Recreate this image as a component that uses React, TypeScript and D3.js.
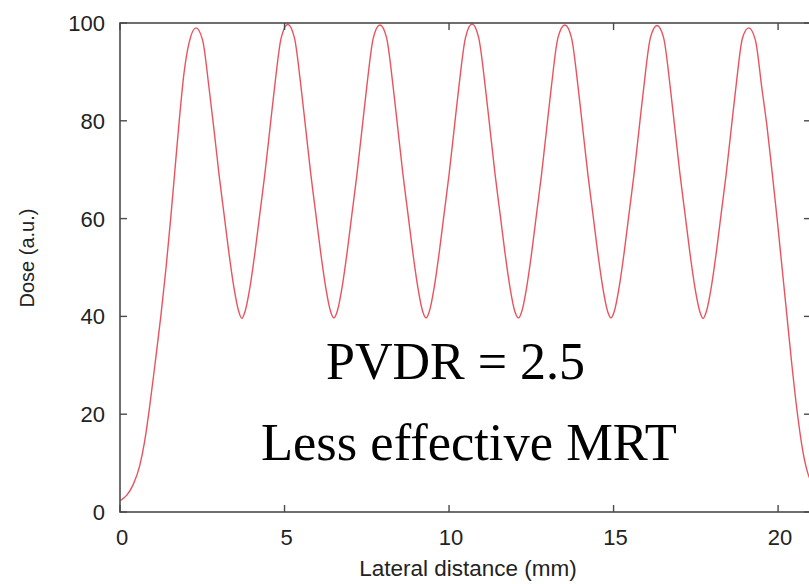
import React from "react";
import * as d3 from "d3";

// Lateral distance (mm) and dose (a.u.)
const lateralMm: number[] = [
  0, 0.2, 0.4, 0.6, 0.75, 0.9, 1.05, 1.24, 1.4, 1.54, 1.67, 1.8, 1.95, 2.1, 2.31,
  2.51, 2.71, 2.86, 3.01, 3.16, 3.31, 3.46, 3.61, 3.7,
  3.8, 3.95, 4.1, 4.25, 4.4, 4.55, 4.7, 4.9, 5.1,
  5.3, 5.5, 5.65, 5.8, 5.95, 6.1, 6.25, 6.4, 6.5,
  6.6, 6.75, 6.9, 7.05, 7.2, 7.35, 7.5, 7.7, 7.9,
  8.1, 8.3, 8.45, 8.6, 8.75, 8.9, 9.05, 9.2, 9.3,
  9.4, 9.55, 9.7, 9.85, 10.0, 10.15, 10.3, 10.5, 10.7,
  10.9, 11.1, 11.25, 11.4, 11.55, 11.7, 11.85, 12.0, 12.11,
  12.21, 12.36, 12.51, 12.66, 12.81, 12.96, 13.11, 13.31, 13.52,
  13.72, 13.92, 14.07, 14.22, 14.37, 14.52, 14.67, 14.82, 14.92,
  15.02, 15.17, 15.32, 15.47, 15.62, 15.77, 15.92, 16.12, 16.32,
  16.52, 16.72, 16.87, 17.02, 17.17, 17.32, 17.47, 17.62, 17.72,
  17.82, 17.97, 18.12, 18.27, 18.42, 18.57, 18.72, 18.92, 19.11,
  19.31, 19.51, 19.66, 19.81, 19.97, 20.12, 20.27, 20.42, 20.58, 20.75, 20.9, 21.0,
];
const dose: number[] = [
  2.3, 3.4, 5.6, 9.5, 14.5, 21.5, 29.5, 40, 50, 60, 70, 80, 90, 96, 99.0,
  96.5, 86.5, 78, 69, 61, 53, 46, 41, 39.6,
  41, 46, 53, 61, 69, 78, 87, 97, 99.7,
  97, 87, 78, 69, 61, 53, 46, 41, 39.7,
  41, 46, 53, 61, 69, 78, 87, 97, 99.6,
  97, 87, 78, 69, 61, 53, 46, 41, 39.7,
  41, 46, 53, 61, 69, 78, 87, 97, 99.8,
  97, 87, 78, 69, 61, 53, 46, 41, 39.7,
  41, 46, 53, 61, 69, 78, 87, 97, 99.6,
  97, 87, 78, 69, 61, 53, 46, 41, 39.7,
  41, 46, 53, 61, 69, 78, 87, 97, 99.5,
  97, 87, 78, 69, 61, 53, 46, 41, 39.6,
  41, 46, 53, 61, 69, 78, 87, 97, 99.0,
  96.5, 86.5, 79, 70, 60, 50, 40, 30, 20.5, 12.5, 8, 6.3,
];
const xTicks: number[] = [0, 5, 10, 15, 20];
const yTicks: number[] = [0, 20, 40, 60, 80, 100];
const xTitle = "Lateral distance (mm)";
const yTitle = "Dose (a.u.)";
const note1 = "PVDR = 2.5";
const note2 = "Less effective MRT";

const W = 809;
const H = 584;
const left = 120;
const right = 811;
const top = 23;
const bottom = 512;

export default function App() {
  const x = d3.scaleLinear().domain([0, 21]).range([left, right]);
  const y = d3.scaleLinear().domain([0, 100]).range([bottom, top]);
  const pts: [number, number][] = lateralMm.map((v, i) => [v, dose[i]]);
  const line = d3
    .line<[number, number]>()
    .x((d) => x(d[0]))
    .y((d) => y(d[1]))
    .curve(d3.curveMonotoneX);
  const axisColor = "#4a4a4a";
  const sans = "'Liberation Sans', Arial, Helvetica, sans-serif";
  const serif = "'Liberation Serif', 'Times New Roman', serif";
  const tl = 7;
  return (
    <svg
      width={W}
      height={H}
      style={{ position: "absolute", left: 0, top: 0, background: "#fff" }}
    >
      <defs>
        <clipPath id="plot">
          <rect x={left} y={top - 3} width={right - left} height={bottom - top + 6} />
        </clipPath>
      </defs>
      <path
        d={line(pts) || ""}
        fill="none"
        stroke="#e8404c"
        strokeWidth={1.4}
        strokeOpacity={0.9}
        clipPath="url(#plot)"
      />
      <rect
        x={left}
        y={top}
        width={right - left}
        height={bottom - top}
        fill="none"
        stroke={axisColor}
        strokeWidth={1.6}
      />
      {yTicks.map((t) => (
        <g key={"y" + t}>
          <line x1={left} x2={left + tl} y1={y(t)} y2={y(t)} stroke={axisColor} strokeWidth={1.4} />
          <line x1={right} x2={right - tl} y1={y(t)} y2={y(t)} stroke={axisColor} strokeWidth={1.4} />
          <text
            x={left - 15}
            y={y(t)}
            dy="0.36em"
            textAnchor="end"
            fontFamily={sans}
            fontSize={22}
            fill="#222"
          >
            {t}
          </text>
        </g>
      ))}
      {xTicks.map((t) => (
        <g key={"x" + t}>
          <line x1={x(t)} x2={x(t)} y1={bottom} y2={bottom - tl} stroke={axisColor} strokeWidth={1.4} />
          <line x1={x(t)} x2={x(t)} y1={top} y2={top + tl} stroke={axisColor} strokeWidth={1.4} />
          <text
            x={x(t) + 2}
            y={545}
            textAnchor="middle"
            fontFamily={sans}
            fontSize={22}
            fill="#222"
          >
            {t}
          </text>
        </g>
      ))}
      <text
        x={468}
        y={576}
        textAnchor="middle"
        fontFamily={sans}
        fontSize={22.5}
        fill="#222"
      >
        {xTitle}
      </text>
      <text
        transform={`translate(34,258) rotate(-90)`}
        textAnchor="middle"
        fontFamily={sans}
        fontSize={20}
        fill="#222"
      >
        {yTitle}
      </text>
      <text x={326} y={379} fontFamily={serif} fontSize={52} fill="#000">
        {note1}
      </text>
      <text x={261} y={460} fontFamily={serif} fontSize={52.5} fill="#000">
        {note2}
      </text>
    </svg>
  );
}
